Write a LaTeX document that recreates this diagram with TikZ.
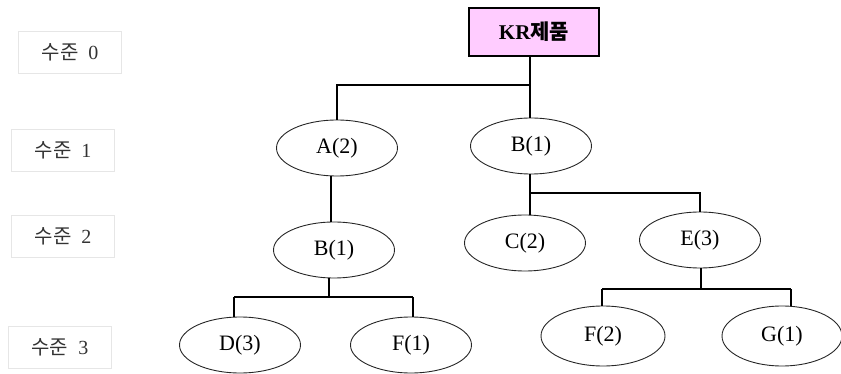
\documentclass[tikz,border=0pt]{standalone}
\usepackage{fontspec}
\setmainfont{Liberation Serif}
\newfontfamily\kr{Noto Sans CJK KR}
\usetikzlibrary{shapes.geometric}
\definecolor{pinkbox}{HTML}{FFCCFF}
\definecolor{lvlborder}{HTML}{E6E6E6}
\begin{document}
\begin{tikzpicture}[x=1pt,y=-1pt,
  part/.style={ellipse,draw=black!85,line width=0.9pt,minimum width=121pt,minimum height=56pt,inner sep=0pt,font=\fontsize{22}{24}\selectfont},
  rootbox/.style={rectangle,draw=black,line width=1.2pt,fill=pinkbox,minimum width=130pt,minimum height=48pt,inner sep=0pt,font=\fontsize{21}{24}\selectfont\bfseries},
  lvl/.style={rectangle,draw=lvlborder,line width=0.8pt,minimum width=103pt,minimum height=42pt,inner sep=0pt,text=black!80,font=\fontsize{20}{22}\selectfont},
  conn/.style={line width=1.2pt,black}]
\useasboundingbox (0,0) rectangle (841,374);
% level labels
\node[lvl] (l0) at (70,52) {\kr 수준\hspace{10pt}\rmfamily 0};
\node[lvl] (l1) at (63,150) {\kr 수준\hspace{10pt}\rmfamily 1};
\node[lvl] (l2) at (63,236) {\kr 수준\hspace{10pt}\rmfamily 2};
\node[lvl] (l3) at (60,347) {\kr 수준\hspace{10pt}\rmfamily 3};
% nodes
\node[rootbox] (kr) at (534,32) {KR{\kr\bfseries 제품}};
\node[part] (a2) at (337,148) {A(2)};
\node[part] (b1) at (531,146) {B(1)};
\node[part] (b1b) at (334,250) {B(1)};
\node[part] (c2) at (525,243) {C(2)};
\node[part] (e3) at (700,240) {E(3)};
\node[part] (d3) at (240,345) {D(3)};
\node[part] (f1) at (411,345) {F(1)};
\node[part,minimum width=124pt,minimum height=60pt] (f2) at (603,336) {F(2)};
\node[part,minimum width=120pt,minimum height=60pt] (g1) at (782,336) {G(1)};
% connectors
\coordinate (j0) at (530,85);
\coordinate (j1) at (530,193);
\coordinate (j2) at (329,297);
\coordinate (j3) at (701,289);
\draw[conn] (kr.south -| j0) -- (b1.north -| j0);
\draw[conn] (j0) -- (j0 -| a2.north) -- (a2.north);
\draw[conn] (a2.south -| 331,0) -- (b1b.north -| 331,0);
\draw[conn] (b1.south -| j1) -- (c2.north -| j1);
\draw[conn] (j1) -- (j1 -| e3.north) -- (e3.north);
\draw[conn] (b1b.south -| j2) -- (j2);
\draw[conn] (j2 -| 234,0) -- (j2 -| 413,0);
\draw[conn] (j2 -| 234,0) -- (d3.north -| 234,0);
\draw[conn] (j2 -| 413,0) -- (f1.north -| 413,0);
\draw[conn] (e3.south -| j3) -- (j3);
\draw[conn] (j3 -| 602,0) -- (j3 -| 791,0);
\draw[conn] (j3 -| 602,0) -- (f2.north -| 602,0);
\draw[conn] (j3 -| 791,0) -- (g1.north -| 791,0);
\end{tikzpicture}
\end{document}
